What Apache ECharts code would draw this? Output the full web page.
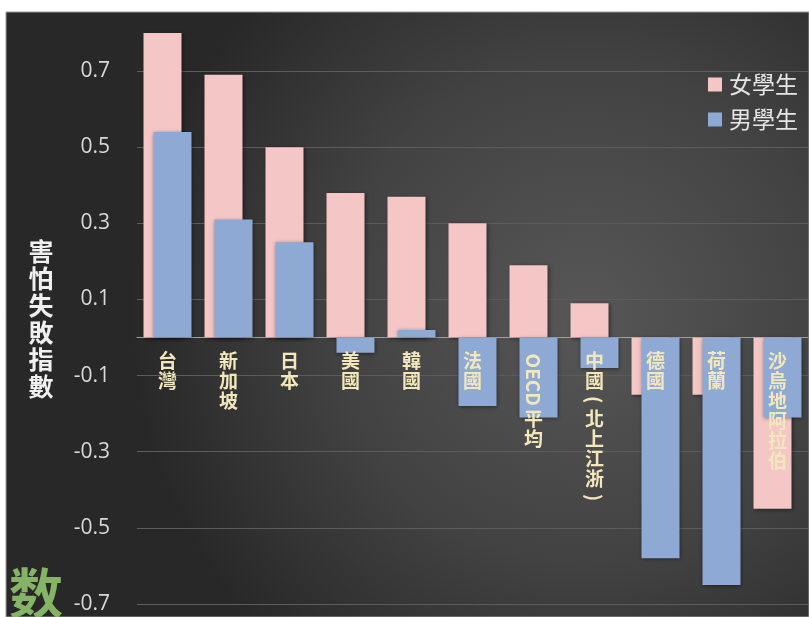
<!DOCTYPE html>
<html>
<head>
<meta charset="utf-8">
<script src="https://cdn.jsdelivr.net/npm/echarts@6/dist/echarts.min.js"></script>
<style>
  html, body { margin: 0; padding: 0; background: #ffffff; overflow: hidden; }
  #chart { width: 809px; height: 617px; }
</style>
</head>
<body>
<div id="chart"></div>
<script>
// ---- data ----
const categories = ['台灣', '新加坡', '日本', '美國', '韓國', '法國', 'OECD平均', '中國(北上江浙)', '德國', '荷蘭', '沙烏地阿拉伯'];
const femaleValues = [0.80, 0.69, 0.50, 0.38, 0.37, 0.30, 0.19, 0.09, -0.15, -0.15, -0.45];
const maleValues   = [0.54, 0.31, 0.25, -0.04, 0.02, -0.18, -0.21, -0.08, -0.58, -0.65, -0.21];
const yTickLabels  = [0.7, 0.5, 0.3, 0.1, -0.1, -0.3, -0.5, -0.7];
const seriesNames  = ['女學生', '男學生'];
const yAxisTitle   = '害怕失敗指數';

const CJK = '"Noto Sans CJK TC", "Noto Sans CJK SC", sans-serif';
const LABEL_COLOR = '#f3e8bb';
const LABEL_SIZE = 19;
const LABEL_PITCH = 20;

// split a label into runs: CJK characters (upright) and non-CJK runs (rotated)
function tokenize(s) {
  const out = [];
  Array.from(s).forEach(function (ch) {
    const isCjk = /[\u3400-\u9fff\uf900-\ufaff]/.test(ch);
    const last = out[out.length - 1];
    if (!isCjk && last && !last.cjk) last.s += ch;
    else out.push({ s: ch, cjk: isCjk });
  });
  return out;
}

const chart = echarts.init(document.getElementById('chart'), null, { renderer: 'canvas' });

const barShadow = {
  shadowBlur: 4,
  shadowColor: 'rgba(0,0,0,0.45)',
  shadowOffsetX: 1,
  shadowOffsetY: 1
};

const baseGraphics = [
  {
    id: 'bg',
    type: 'rect',
    z: -100,
    silent: true,
    shape: { x: 6, y: 12, width: 803, height: 605 },
    style: {
      fill: {
        type: 'radial', x: 0.72, y: 0.5, r: 0.75,
        colorStops: [
          { offset: 0, color: '#575757' },
          { offset: 0.55, color: '#424242' },
          { offset: 1, color: '#282828' }
        ]
      },
      stroke: '#9a9a9a',
      lineWidth: 1
    }
  },
  {
    id: 'logo',
    type: 'text',
    z: 10,
    silent: true,
    x: 9,
    y: 566,
    style: {
      text: '数',
      fontSize: 54,
      fontWeight: 'bold',
      fontFamily: CJK,
      fill: '#86b466'
    }
  }
];

const option = {
  animation: false,
  backgroundColor: '#ffffff',
  textStyle: { fontFamily: CJK },
  graphic: baseGraphics,
  grid: {
    left: 137,
    right: 1,
    top: 33,
    bottom: 13,
    containLabel: false,
    outerBoundsMode: 'none'
  },
  legend: {
    data: seriesNames,
    orient: 'vertical',
    right: 11,
    top: 73,
    padding: 0,
    itemWidth: 14,
    itemHeight: 14,
    itemGap: 12,
    icon: 'rect',
    textStyle: { fontSize: 23, color: '#e6e6e6', fontFamily: CJK, padding: [0, 0, 0, 2] }
  },
  xAxis: {
    type: 'category',
    data: categories,
    position: 'bottom',
    axisLine: { show: true, onZero: true, lineStyle: { color: '#a0a0a0', width: 1 } },
    axisTick: { show: false },
    splitLine: { show: false },
    axisLabel: { show: false }
  },
  yAxis: {
    type: 'value',
    min: -0.7,
    max: 0.8,
    interval: 0.1,
    name: Array.from(yAxisTitle).join('\n'),
    nameLocation: 'middle',
    nameRotate: 0,
    nameGap: 96,
    nameTextStyle: {
      fontSize: 25,
      lineHeight: 27,
      fontWeight: 'bold',
      color: '#f0f0f0',
      fontFamily: CJK,
      align: 'center',
      verticalAlign: 'middle'
    },
    axisLine: { show: false },
    axisTick: { show: false },
    splitLine: { show: false },
    axisLabel: {
      margin: 27,
      fontSize: 21,
      color: '#d9d9d9',
      fontFamily: '"Open Sans", "Noto Sans", sans-serif',
      formatter: function (v) {
        const k = Math.round(v * 10);
        if (Math.abs(v * 10 - k) > 1e-6) return '';
        const hit = yTickLabels.some(function (t) { return Math.round(t * 10) === k; });
        return hit ? (k / 10).toFixed(1) : '';
      }
    }
  },
  series: [
    {
      name: seriesNames[0],
      type: 'bar',
      data: femaleValues,
      barWidth: 38,
      barGap: '-73.7%',
      itemStyle: Object.assign({ color: '#f5c6c6' }, barShadow),
      markLine: {
        silent: true,
        z: 1,
        symbol: 'none',
        label: { show: false },
        emphasis: { disabled: true },
        lineStyle: { color: '#5c5c5c', width: 1, type: 'solid' },
        data: yTickLabels.map(function (t) { return { yAxis: t }; })
      }
    },
    {
      name: seriesNames[1],
      type: 'bar',
      data: maleValues,
      barWidth: 38,
      barGap: '-73.7%',
      itemStyle: Object.assign({ color: '#8fa9d5' }, barShadow)
    }
  ]
};

chart.setOption(option);

// Category labels (vertical text), positioned through the chart's own axes
const measureCtx = document.createElement('canvas').getContext('2d');
measureCtx.font = 'bold ' + LABEL_SIZE + 'px "Noto Sans CJK TC"';
const zeroY = chart.convertToPixel({ yAxisIndex: 0 }, 0);
const labelGraphics = [];
categories.forEach(function (cat, i) {
  const cx = chart.convertToPixel({ xAxisIndex: 0 }, cat);
  let y = zeroY + 13;
  tokenize(cat).forEach(function (tok, j) {
    const common = {
      fill: LABEL_COLOR,
      fontSize: LABEL_SIZE,
      fontWeight: 'bold',
      fontFamily: CJK
    };
    if (tok.cjk) {
      labelGraphics.push({
        id: 'lbl' + i + '_' + j,
        type: 'text',
        z: 20,
        silent: true,
        x: cx,
        y: y,
        style: Object.assign({
          text: tok.s,
          align: 'center',
          verticalAlign: 'top',
          lineHeight: LABEL_PITCH
        }, common)
      });
      y += LABEL_PITCH;
    } else {
      const w = measureCtx.measureText(tok.s).width;
      const adv = Math.max(w + 6, 18);
      labelGraphics.push({
        id: 'lbl' + i + '_' + j,
        type: 'text',
        z: 20,
        silent: true,
        x: cx,
        y: y + (adv - w) / 2,
        rotation: -Math.PI / 2,
        style: Object.assign({
          text: tok.s,
          align: 'left',
          verticalAlign: 'middle'
        }, common)
      });
      y += adv;
    }
  });
});

chart.setOption({ graphic: baseGraphics.concat(labelGraphics) });
</script>
</body>
</html>
